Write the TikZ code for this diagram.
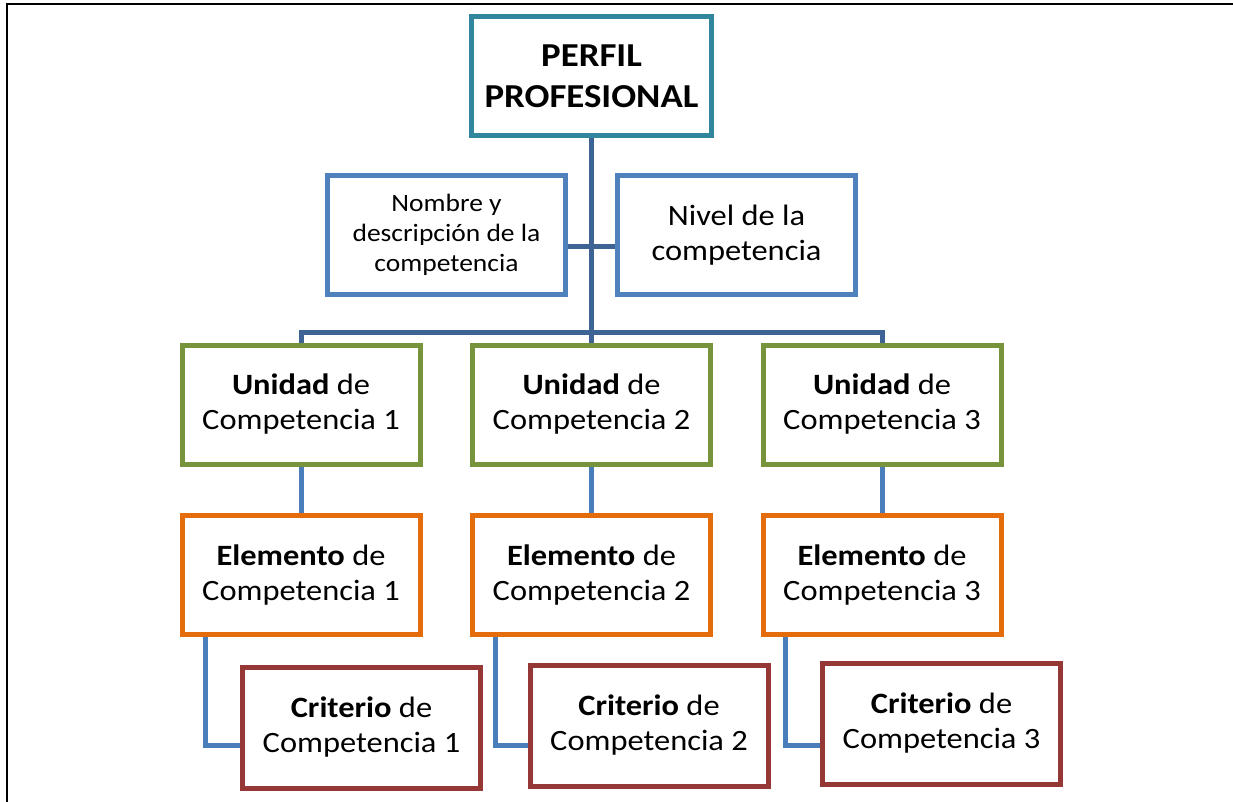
\documentclass[tikz,border=0pt]{standalone}
\usepackage{fontspec}
\setmainfont{Carlito}[FakeStretch=1.1]
\usepackage{tikz}

\definecolor{perfilc}{HTML}{31859C}
\definecolor{descc}{HTML}{4F81BD}
\definecolor{unidadc}{HTML}{77933C}
\definecolor{elemc}{HTML}{E46C0A}
\definecolor{critc}{HTML}{953735}
\definecolor{linkdark}{HTML}{3E6496}
\definecolor{linklight}{HTML}{4A7EBB}

\begin{document}
\begin{tikzpicture}[x=1pt,y=-1pt]
		\tikzstyle{every node}+=[inner sep=0pt]
		\tikzstyle{caja}=[draw,line width=5pt,fill=white,align=center,minimum width=238pt,minimum height=119pt,font=\fontsize{29.5}{35}\selectfont]
		\tikzstyle{enlace}=[line width=5pt]
		\useasboundingbox (0,0) rectangle (1233,802);
		\draw [black,line width=2.5pt] (7,802) -- (7,4) -- (1233,4);
		% lines first, boxes on top
		\node [caja,draw=perfilc,minimum width=240pt,font=\fontsize{33.5}{41}\selectfont\bfseries] (perfil) at (591.5,76) {PERFIL\\PROFESIONAL};
		\node [caja,draw=descc,font=\fontsize{25}{30}\selectfont] (nombre) at (446.5,235) {Nombre y\\descripción de la\\competencia};
		\node [caja,draw=descc] (nivel) at (736.5,235) {Nivel de la\\competencia};
		\coordinate (barra) at (591.5,332);
		\node [caja,draw=unidadc] (u1) at (301,404.5) {\textbf{Unidad} de\\Competencia 1};
		\node [caja,draw=unidadc] (u2) at (591.5,404.5) {\textbf{Unidad} de\\Competencia 2};
		\node [caja,draw=unidadc] (u3) at (882,404.5) {\textbf{Unidad} de\\Competencia 3};
		\node [caja,draw=elemc] (e1) at (301,575) {\textbf{Elemento} de\\Competencia 1};
		\node [caja,draw=elemc] (e2) at (591.5,575) {\textbf{Elemento} de\\Competencia 2};
		\node [caja,draw=elemc] (e3) at (882,575) {\textbf{Elemento} de\\Competencia 3};
		\node [caja,draw=critc,minimum height=121pt] (c1) at (361.5,727.5) {\textbf{Criterio} de\\Competencia 1};
		\node [caja,draw=critc,minimum height=121pt] (c2) at (649,725.5) {\textbf{Criterio} de\\Competencia 2};
		\node [caja,draw=critc,minimum height=121pt] (c3) at (941.5,723.5) {\textbf{Criterio} de\\Competencia 3};
		\draw [enlace,linkdark] (perfil.south) -- (barra);
		\draw [enlace,linkdark] ([yshift=-12pt]nombre.east) -- ([yshift=-12pt]nivel.west);
		\draw [enlace,linkdark] (u1.north) |- (barra) -| (u3.north);
		\draw [enlace,linkdark] (barra) -- (u2.north);
		\draw [enlace,linklight] (u1.south) -- (e1.north);
		\draw [enlace,linklight] (u2.south) -- (e2.north);
		\draw [enlace,linklight] (u3.south) -- (e3.north);
		\draw [enlace,linklight] ([xshift=-96pt]e1.south) |- ([yshift=-17.5pt]c1.west);
		\draw [enlace,linklight] ([xshift=-96pt]e2.south) |- ([yshift=-19.5pt]c2.west);
		\draw [enlace,linklight] ([xshift=-97pt]e3.south) |- ([yshift=-21.5pt]c3.west);
\end{tikzpicture}
\end{document}
